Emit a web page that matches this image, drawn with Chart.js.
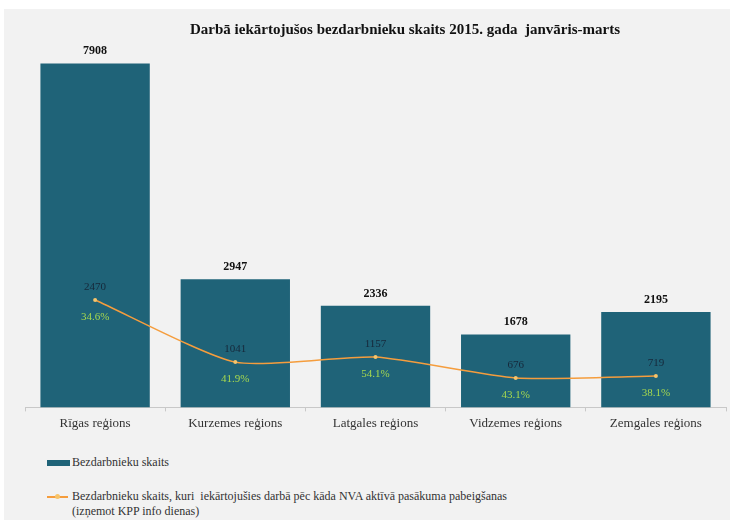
<!DOCTYPE html>
<html>
<head>
<meta charset="utf-8">
<script src="https://cdn.jsdelivr.net/npm/chart.js@4.4.1/dist/chart.umd.min.js"></script>
<style>
  body { margin: 0; background: #fff; }
  #wrap { position: absolute; left: 4px; top: 9px; width: 726px; height: 511px; background: #f2f2f2; }
  #box { position: absolute; left: 0; top: 0; width: 726px; height: 436px; }
  .legend { position: absolute; left: 43px; font-family: "Liberation Serif", "Times New Roman", serif; font-size: 12px; color: #333; }
  .sw-bar { display: inline-block; width: 23px; height: 6px; background: #1f6378; vertical-align: middle; margin-right: 2px; }
  .sw-line { display: inline-block; position: relative; width: 21px; height: 2px; background: #f59d3d; vertical-align: top; margin-top: 7px; margin-right: 4px; }
  .sw-line::after { content: ""; position: absolute; left: 8px; top: -2px; width: 5px; height: 5px; border-radius: 50%; background: #f7c46a; }
</style>
</head>
<body>
<div id="wrap">
  <div id="box"><canvas id="myChart"></canvas></div>
  <div class="legend" style="top:446px"><span class="sw-bar"></span>Bezdarbnieku skaits</div>
  <div class="legend" style="top:480px; line-height:15px">
    <span class="sw-line"></span><span style="display:inline-block; vertical-align:top">Bezdarbnieku skaits, kuri&nbsp; iekārtojušies darbā pēc kāda NVA aktīvā pasākuma pabeigšanas<br>(izņemot KPP info dienas)</span>
  </div>
</div>
<script>
const regions = ['Rīgas reģions', 'Kurzemes reģions', 'Latgales reģions', 'Vidzemes reģions', 'Zemgales reģions'];
const unemployed = [7908, 2947, 2336, 1678, 2195];
const employedAfter = [2470, 1041, 1157, 676, 719];
const shareLabels = ['34.6%', '41.9%', '54.1%', '43.1%', '38.1%'];
const chartTitle = 'Darbā iekārtojušos bezdarbnieku skaits 2015. gada  janvāris-marts';

const serif = '"Liberation Serif", "Times New Roman", serif';

// virsraksts un vērtību uzraksti
const labelsPlugin = {
    id: 'labels',
    afterDatasetsDraw(chart) {
        const ctx = chart.ctx;
        ctx.save();
        ctx.textAlign = 'center';
        ctx.fillStyle = '#111';
        ctx.font = 'bold 15px ' + serif;
        ctx.textBaseline = 'middle';
        ctx.fillText(chartTitle, 401, 21);

        ctx.font = 'bold 12px ' + serif;
        ctx.textBaseline = 'alphabetic';
        chart.getDatasetMeta(1).data.forEach(function (bar, i) {
            ctx.fillText(unemployed[i], bar.x, bar.y - 9);
        });

        ctx.font = '11px ' + serif;
        chart.getDatasetMeta(0).data.forEach(function (pt, i) {
            ctx.fillStyle = '#16283a';
            ctx.fillText(employedAfter[i], pt.x, pt.y - 10);
            ctx.fillStyle = '#a6d84f';
            ctx.fillText(shareLabels[i], pt.x, pt.y + 20);
        });
        ctx.restore();
    }
};

const ctx = document.getElementById('myChart').getContext('2d');
const myChart = new Chart(ctx, {
    data: {
        labels: regions,
        datasets: [
            {
                type: 'line',
                label: 'Bezdarbnieku skaits, kuri iekārtojušies darbā',
                data: employedAfter,
                borderColor: '#f59d3d',
                backgroundColor: '#f7c46a',
                borderWidth: 1.5,
                pointRadius: 2,
                pointBorderWidth: 0,
                tension: 0.2,
                order: 0
            },
            {
                type: 'bar',
                label: 'Bezdarbnieku skaits',
                data: unemployed,
                backgroundColor: '#1f6378',
                categoryPercentage: 1,
                barPercentage: 0.78,
                order: 1
            }
        ]
    },
    options: {
        responsive: true,
        maintainAspectRatio: false,
        animation: false,
        layout: { padding: { left: 21, right: 3, top: 33, bottom: 10 } },
        plugins: {
            legend: { display: false },
            tooltip: { enabled: false }
        },
        scales: {
            x: {
                grid: { display: true, drawOnChartArea: false, offset: true, tickLength: 4, color: '#c8c8c8' },
                border: { color: '#c8c8c8' },
                ticks: { color: '#333', padding: 4, font: { family: serif, size: 13 } }
            },
            y: {
                display: false,
                min: 0,
                max: 8400
            }
        }
    },
    plugins: [labelsPlugin]
});
</script>
</body>
</html>
